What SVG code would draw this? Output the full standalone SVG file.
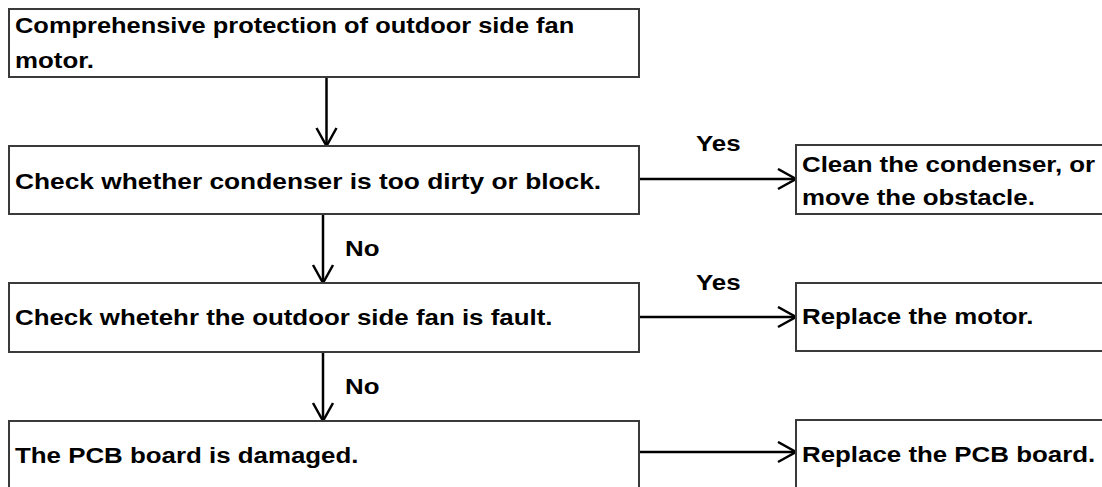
<svg xmlns="http://www.w3.org/2000/svg" width="1102" height="487" viewBox="0 0 1102 487">
<style>
.box{fill:#fff;stroke:#3a3a3a;stroke-width:2}
.t{font-family:"Liberation Sans",Arial,sans-serif;font-weight:bold;font-size:22.5px;fill:#000}
.c{fill:none;stroke:#000;stroke-width:2.5;marker-end:url(#ah)}
</style>
<defs>
<marker id="ah" markerUnits="userSpaceOnUse" markerWidth="24" markerHeight="26" refX="19" refY="11" orient="auto" viewBox="0 0 24 26">
<path d="M1,1 L19,11 L1,21" fill="none" stroke="#000" stroke-width="2.5"/>
</marker>
</defs>
<rect width="1102" height="487" fill="#fff"/>
<g id="connectors">
<line class="c" x1="326.5" y1="77" x2="326.5" y2="146"/>
<line class="c" x1="323" y1="214" x2="323" y2="283"/>
<line class="c" x1="323" y1="352" x2="323" y2="421"/>
<line class="c" x1="639" y1="179" x2="796" y2="179"/>
<line class="c" x1="639" y1="317" x2="796" y2="317"/>
<line class="c" x1="639" y1="452" x2="796" y2="452"/>
<text class="t" transform="translate(345,256) scale(1.15,1)">No</text>
<text class="t" transform="translate(345,394) scale(1.15,1)">No</text>
<text class="t" transform="translate(696,151) scale(1.15,1)">Yes</text>
<text class="t" transform="translate(696,290) scale(1.15,1)">Yes</text>
</g>
<g id="n1">
<rect class="box" x="9" y="9" width="630" height="68"/>
<text class="t" transform="translate(15,33) scale(1.13,1)">Comprehensive protection of outdoor side fan</text>
<text class="t" transform="translate(15,68) scale(1.15,1)">motor.</text>
</g>
<g id="n2">
<rect class="box" x="9" y="146" width="630" height="68"/>
<text class="t" transform="translate(15,189) scale(1.17,1)">Check whether condenser is too dirty or block.</text>
</g>
<g id="n3">
<rect class="box" x="9" y="283" width="630" height="69"/>
<text class="t" transform="translate(15,325) scale(1.15,1)">Check whetehr the outdoor side fan is fault.</text>
</g>
<g id="n4">
<rect class="box" x="9" y="421" width="630" height="90"/>
<text class="t" transform="translate(15,463) scale(1.15,1)">The PCB board is damaged.</text>
</g>
<g id="n5">
<rect class="box" x="796" y="145" width="330" height="69"/>
<text class="t" transform="translate(802,172) scale(1.15,1)">Clean the condenser, or</text>
<text class="t" transform="translate(802,205) scale(1.15,1)">move the obstacle.</text>
</g>
<g id="n6">
<rect class="box" x="796" y="283" width="330" height="68"/>
<text class="t" transform="translate(802,324) scale(1.15,1)">Replace the motor.</text>
</g>
<g id="n7">
<rect class="box" x="796" y="420" width="330" height="90"/>
<text class="t" transform="translate(802,462) scale(1.15,1)">Replace the PCB board.</text>
</g>
</svg>
